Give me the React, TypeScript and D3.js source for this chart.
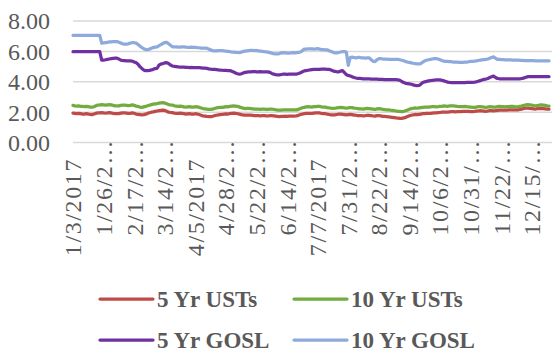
import React, { useEffect, useRef } from 'react';
import * as d3 from 'd3';

// US bond market holidays in 2017 (no quotes on these days)
const holidays = [
    '2017-01-16', '2017-02-20', '2017-04-14', '2017-05-29', '2017-07-04',
    '2017-09-04', '2017-10-09', '2017-11-23', '2017-12-25',
];

// trading days, 3 Jan 2017 .. 29 Dec 2017
const dates: string[] = [];
for (let d = new Date(Date.UTC(2017, 0, 3)); d <= new Date(Date.UTC(2017, 11, 29)); d.setUTCDate(d.getUTCDate() + 1)) {
    const iso = d.toISOString().slice(0, 10);
    if (d.getUTCDay() === 0 || d.getUTCDay() === 6 || holidays.includes(iso)) continue;
    dates.push(iso);
}

// labels as Excel shows them (every 16th day, clipped)
const tickLabels = [
    '1/3/2017', '1/26/2…', '2/17/2…', '3/14/2…', '4/5/2017', '4/28/2…', '5/22/2…', '6/14/2…',
    '7/7/2017', '7/31/2…', '8/22/2…', '9/14/2…', '10/6/2…', '10/31/…', '11/22/…', '12/15/…',
];
const tickEvery = 16;

const yTicks = [0, 2, 4, 6, 8];

const ust5 = [
    1.94, 1.92, 1.9, 1.92, 1.9, 1.88, 1.88, 1.9, 1.88, 1.85,
    1.84, 1.88, 1.92, 1.96, 1.96, 1.97, 1.95, 1.94, 1.95, 1.97,
    1.95, 1.92, 1.9, 1.9, 1.91, 1.94, 1.96, 1.95, 1.94, 1.92,
    1.93, 1.96, 1.93, 1.88, 1.86, 1.84, 1.82, 1.84, 1.87, 1.92,
    1.96, 2.0, 2.02, 2.05, 2.08, 2.1, 2.12, 2.14, 2.12, 2.06,
    2.0, 1.98, 1.97, 1.94, 1.93, 1.92, 1.94, 1.92, 1.9, 1.88,
    1.89, 1.9, 1.88, 1.87, 1.9, 1.88, 1.85, 1.8, 1.76, 1.74,
    1.72, 1.71, 1.71, 1.73, 1.77, 1.8, 1.82, 1.84, 1.85, 1.87,
    1.89, 1.88, 1.91, 1.93, 1.94, 1.93, 1.9, 1.88, 1.84, 1.82,
    1.8, 1.81, 1.8, 1.8, 1.79, 1.77, 1.78, 1.77, 1.76, 1.77,
    1.77, 1.76, 1.75, 1.77, 1.78, 1.76, 1.74, 1.72, 1.71, 1.72,
    1.73, 1.74, 1.73, 1.74, 1.74, 1.75, 1.75, 1.76, 1.8, 1.85,
    1.88, 1.9, 1.92, 1.93, 1.92, 1.92, 1.94, 1.95, 1.96, 1.95,
    1.92, 1.9, 1.9, 1.87, 1.85, 1.83, 1.82, 1.83, 1.85, 1.87,
    1.88, 1.86, 1.84, 1.82, 1.84, 1.85, 1.84, 1.81, 1.8, 1.78,
    1.77, 1.77, 1.75, 1.78, 1.8, 1.79, 1.77, 1.75, 1.74, 1.77,
    1.78, 1.76, 1.73, 1.72, 1.71, 1.7, 1.68, 1.66, 1.64, 1.62,
    1.61, 1.6, 1.6, 1.62, 1.66, 1.72, 1.77, 1.8, 1.83, 1.85,
    1.84, 1.86, 1.88, 1.9, 1.91, 1.92, 1.92, 1.93, 1.94, 1.95,
    1.96, 1.97, 1.98, 2.0, 2.01, 2.01, 2.0, 2.02, 2.03, 2.03,
    2.02, 2.03, 2.04, 2.04, 2.05, 2.06, 2.05, 2.05, 2.04, 2.04,
    2.05, 2.07, 2.08, 2.1, 2.08, 2.07, 2.06, 2.08, 2.1, 2.1,
    2.09, 2.1, 2.12, 2.14, 2.14, 2.13, 2.13, 2.14, 2.15, 2.16,
    2.16, 2.15, 2.15, 2.16, 2.18, 2.22, 2.25, 2.26, 2.27, 2.25,
    2.24, 2.22, 2.21, 2.23, 2.24, 2.25, 2.24, 2.22, 2.2, 2.2,
];

const ust10 = [
    2.45, 2.42, 2.4, 2.42, 2.38, 2.38, 2.36, 2.38, 2.36, 2.34,
    2.33, 2.36, 2.42, 2.47, 2.48, 2.5, 2.48, 2.46, 2.48, 2.5,
    2.48, 2.45, 2.42, 2.41, 2.42, 2.45, 2.47, 2.46, 2.45, 2.43,
    2.45, 2.48, 2.45, 2.4, 2.38, 2.34, 2.32, 2.35, 2.38, 2.42,
    2.46, 2.5, 2.53, 2.55, 2.57, 2.6, 2.62, 2.63, 2.6, 2.55,
    2.5, 2.48, 2.47, 2.42, 2.4, 2.38, 2.4, 2.38, 2.35, 2.33,
    2.35, 2.36, 2.34, 2.33, 2.36, 2.35, 2.32, 2.28, 2.24, 2.22,
    2.2, 2.19, 2.18, 2.2, 2.24, 2.28, 2.3, 2.32, 2.32, 2.34,
    2.36, 2.35, 2.38, 2.4, 2.41, 2.4, 2.38, 2.35, 2.3, 2.27,
    2.24, 2.25, 2.25, 2.24, 2.22, 2.2, 2.21, 2.2, 2.19, 2.2,
    2.2, 2.19, 2.18, 2.2, 2.21, 2.18, 2.16, 2.14, 2.13, 2.14,
    2.15, 2.16, 2.15, 2.16, 2.15, 2.16, 2.15, 2.15, 2.2, 2.25,
    2.3, 2.32, 2.35, 2.36, 2.35, 2.34, 2.36, 2.37, 2.39, 2.38,
    2.35, 2.33, 2.33, 2.3, 2.28, 2.26, 2.25, 2.26, 2.28, 2.3,
    2.32, 2.3, 2.28, 2.26, 2.28, 2.3, 2.3, 2.27, 2.26, 2.24,
    2.22, 2.22, 2.2, 2.23, 2.25, 2.24, 2.22, 2.2, 2.18, 2.22,
    2.24, 2.22, 2.18, 2.17, 2.16, 2.15, 2.13, 2.12, 2.1, 2.08,
    2.06, 2.05, 2.04, 2.06, 2.1, 2.15, 2.2, 2.23, 2.26, 2.28,
    2.26, 2.28, 2.3, 2.32, 2.33, 2.34, 2.34, 2.35, 2.36, 2.36,
    2.35, 2.36, 2.38, 2.39, 2.41, 2.4, 2.39, 2.41, 2.42, 2.41,
    2.4, 2.38, 2.37, 2.36, 2.37, 2.38, 2.36, 2.35, 2.34, 2.32,
    2.32, 2.34, 2.36, 2.37, 2.35, 2.33, 2.32, 2.34, 2.36, 2.35,
    2.33, 2.34, 2.36, 2.38, 2.37, 2.36, 2.35, 2.36, 2.37, 2.38,
    2.38, 2.36, 2.35, 2.36, 2.38, 2.42, 2.45, 2.48, 2.5, 2.48,
    2.46, 2.44, 2.42, 2.44, 2.46, 2.48, 2.47, 2.45, 2.42, 2.4,
];

const gosl5 = [
    5.98, 5.98, 5.98, 5.98, 5.98, 5.98, 5.98, 5.98, 5.98, 5.98,
    5.98, 5.98, 5.98, 5.98, 5.98, 5.43, 5.43, 5.45, 5.48, 5.5,
    5.52, 5.54, 5.55, 5.55, 5.5, 5.42, 5.4, 5.39, 5.38, 5.38,
    5.37, 5.36, 5.3, 5.26, 5.15, 5.0, 4.88, 4.78, 4.73, 4.73,
    4.75, 4.78, 4.82, 4.87, 4.89, 5.1, 5.17, 5.2, 5.24, 5.26,
    5.2, 5.1, 5.04, 5.02, 5.0, 4.98, 4.97, 4.97, 4.96, 4.95,
    4.95, 4.94, 4.95, 4.94, 4.93, 4.93, 4.93, 4.92, 4.9, 4.9,
    4.88, 4.85, 4.83, 4.82, 4.82, 4.8, 4.78, 4.77, 4.76, 4.75,
    4.75, 4.74, 4.73, 4.7, 4.65, 4.58, 4.53, 4.51, 4.52, 4.58,
    4.62, 4.64, 4.66, 4.66, 4.67, 4.67, 4.66, 4.66, 4.67, 4.66,
    4.66, 4.66, 4.65, 4.62, 4.55, 4.5, 4.47, 4.45, 4.46, 4.48,
    4.5, 4.5, 4.49, 4.5, 4.51, 4.51, 4.5, 4.51, 4.55, 4.6,
    4.66, 4.72, 4.74, 4.76, 4.78, 4.8, 4.81, 4.82, 4.82, 4.82,
    4.83, 4.84, 4.83, 4.82, 4.82, 4.78, 4.72, 4.68, 4.66, 4.66,
    4.7, 4.73, 4.6, 4.47, 4.42, 4.38, 4.33, 4.28, 4.25, 4.23,
    4.22, 4.21, 4.2, 4.2, 4.19, 4.19, 4.18, 4.18, 4.17, 4.17,
    4.16, 4.16, 4.16, 4.15, 4.15, 4.15, 4.14, 4.14, 4.14, 4.14,
    4.13, 4.1, 4.02, 3.95, 3.9, 3.88, 3.86, 3.84, 3.8, 3.77,
    3.75, 3.76, 3.85, 3.95, 4.0, 4.03, 4.06, 4.08, 4.1, 4.11,
    4.12, 4.12, 4.12, 4.1, 4.06, 4.02, 3.98, 3.96, 3.95, 3.94,
    3.94, 3.94, 3.95, 3.95, 3.95, 3.95, 3.96, 3.96, 3.96, 3.97,
    3.98, 4.0, 4.04, 4.08, 4.12, 4.16, 4.18, 4.22, 4.28, 4.33,
    4.38, 4.28, 4.22, 4.2, 4.2, 4.2, 4.2, 4.2, 4.2, 4.2,
    4.2, 4.2, 4.2, 4.2, 4.2, 4.22, 4.26, 4.3, 4.34, 4.34,
    4.34, 4.34, 4.34, 4.34, 4.34, 4.34, 4.34, 4.34, 4.34, 4.34,
];

const gosl10 = [
    7.06, 7.06, 7.06, 7.06, 7.06, 7.06, 7.06, 7.06, 7.06, 7.06,
    7.06, 7.06, 7.06, 7.06, 7.06, 6.55, 6.56, 6.58, 6.6, 6.62,
    6.63, 6.64, 6.64, 6.64, 6.6, 6.55, 6.5, 6.48, 6.48, 6.5,
    6.55, 6.57, 6.57, 6.55, 6.45, 6.35, 6.25, 6.18, 6.12, 6.12,
    6.15, 6.2, 6.25, 6.28, 6.3, 6.38, 6.45, 6.52, 6.58, 6.6,
    6.5, 6.4, 6.3, 6.3, 6.3, 6.28, 6.28, 6.3, 6.3, 6.28,
    6.27, 6.27, 6.28, 6.27, 6.27, 6.25, 6.24, 6.22, 6.22, 6.21,
    6.21, 6.15, 6.1, 6.05, 6.04, 6.03, 6.05, 6.05, 6.05, 6.03,
    6.02, 6.0, 5.98, 5.96, 5.95, 5.93, 5.93, 5.92, 5.95, 6.0,
    6.02, 6.04, 6.05, 6.06, 6.06, 6.05, 6.06, 6.04, 6.02, 6.0,
    5.98, 5.97, 5.95, 5.92, 5.88, 5.85, 5.84, 5.84, 5.86, 5.9,
    5.92, 5.9, 5.88, 5.89, 5.9, 5.92, 5.9, 5.92, 5.94, 5.96,
    6.05, 6.15, 6.15, 6.16, 6.17, 6.16, 6.15, 6.16, 6.18, 6.15,
    6.12, 6.12, 6.1, 6.1, 6.05, 6.0, 5.95, 5.9, 5.9, 5.93,
    5.96, 5.98, 5.98, 5.95, 5.08, 5.6, 5.62, 5.6, 5.58, 5.6,
    5.6, 5.58, 5.57, 5.56, 5.57, 5.57, 5.45, 5.35, 5.33, 5.45,
    5.53, 5.52, 5.5, 5.5, 5.5, 5.48, 5.48, 5.47, 5.47, 5.48,
    5.47, 5.45, 5.42, 5.38, 5.33, 5.3, 5.28, 5.25, 5.22, 5.2,
    5.18, 5.18, 5.2, 5.3, 5.38, 5.42, 5.45, 5.48, 5.5, 5.52,
    5.52, 5.5, 5.45, 5.4, 5.36, 5.35, 5.35, 5.33, 5.32, 5.3,
    5.3, 5.29, 5.28, 5.28, 5.28, 5.29, 5.3, 5.32, 5.34, 5.35,
    5.36, 5.38, 5.4, 5.42, 5.44, 5.46, 5.47, 5.5, 5.55, 5.6,
    5.64, 5.55, 5.48, 5.47, 5.46, 5.46, 5.45, 5.45, 5.44, 5.44,
    5.43, 5.43, 5.42, 5.42, 5.41, 5.41, 5.4, 5.4, 5.4, 5.39,
    5.39, 5.39, 5.38, 5.38, 5.38, 5.38, 5.38, 5.38, 5.38, 5.38,
];

const seriesNames = ['5 Yr USTs', '10 Yr USTs', '5 Yr GOSL', '10 Yr GOSL'];
const seriesValues = [ust5, ust10, gosl5, gosl10];
const colors = ['#BE4B48', '#72AC3F', '#7030A0', '#8EA9DB'];

const FONT = '"Liberation Serif", "Times New Roman", serif';
const TEXT = '#595959';

const App: React.FC = () => {
    const svgRef = useRef<SVGSVGElement>(null);

    useEffect(() => {
        if (!svgRef.current) return;
        const svg = d3.select(svgRef.current);
        svg.selectAll('*').remove();

        const width = 552;
        const height = 354;
        svg.attr('width', width).attr('height', height);

        const x = d3.scalePoint<string>().domain(dates).range([73, 549]);
        const y = d3.scaleLinear().domain([0, 8]).range([142.6, 21]);

        // gridlines
        svg.append('g')
            .selectAll('line')
            .data(yTicks)
            .enter()
            .append('line')
            .attr('x1', 73)
            .attr('x2', width)
            .attr('y1', d => y(d))
            .attr('y2', d => y(d))
            .style('stroke', '#D9D9D9')
            .style('stroke-width', 1.5);

        // y labels
        svg.append('g')
            .selectAll('text')
            .data(yTicks)
            .enter()
            .append('text')
            .attr('x', 50)
            .attr('y', d => y(d))
            .attr('dy', '0.35em')
            .attr('text-anchor', 'end')
            .style('font-family', FONT)
            .style('font-size', '24px')
            .style('fill', TEXT)
            .text(d => d.toFixed(2));

        // x labels, rotated
        svg.append('g')
            .selectAll('text')
            .data(tickLabels)
            .enter()
            .append('text')
            .attr('transform', (d, i) => {
                const top = d.endsWith('…') ? 139 : 158;
                return `translate(${x(dates[i * tickEvery])},${top}) rotate(-90)`;
            })
            .attr('dy', '0.35em')
            .attr('text-anchor', 'end')
            .style('font-family', FONT)
            .style('font-size', '24px')
            .style('letter-spacing', '1.6px')
            .style('fill', TEXT)
            .text(d => d);

        // series lines
        const line = d3.line<number>()
            .x((_, i) => x(dates[i]) as number)
            .y(d => y(d));

        seriesValues.forEach((vals, k) => {
            svg.append('path')
                .datum(vals)
                .attr('d', line)
                .style('fill', 'none')
                .style('stroke', colors[k])
                .style('stroke-width', 3.25)
                .style('stroke-linejoin', 'round')
                .style('stroke-linecap', 'round');
        });

        // legend, 2 x 2
        const legendCols = [100, 294];
        const legendRows = [299, 340];
        const legend = svg.append('g')
            .selectAll('g')
            .data(seriesNames)
            .enter()
            .append('g')
            .attr('transform', (_, i) => `translate(${legendCols[i % 2]},${legendRows[Math.floor(i / 2)]})`);

        legend.append('line')
            .attr('x1', 0)
            .attr('x2', 53)
            .attr('y1', 0)
            .attr('y2', 0)
            .style('stroke', (_, i) => colors[i])
            .style('stroke-width', 3.25)
            .style('stroke-linecap', 'round');

        legend.append('text')
            .attr('x', 57)
            .attr('y', 0)
            .attr('dy', '0.33em')
            .style('font-family', FONT)
            .style('font-size', '23px')
            .style('font-weight', 'bold')
            .style('fill', TEXT)
            .text(d => d);
    }, []);

    return (
        <svg
            ref={svgRef}
            style={{ position: 'absolute', left: 0, top: 0, display: 'block', background: '#fff' }}
        />
    );
};

export default App;
